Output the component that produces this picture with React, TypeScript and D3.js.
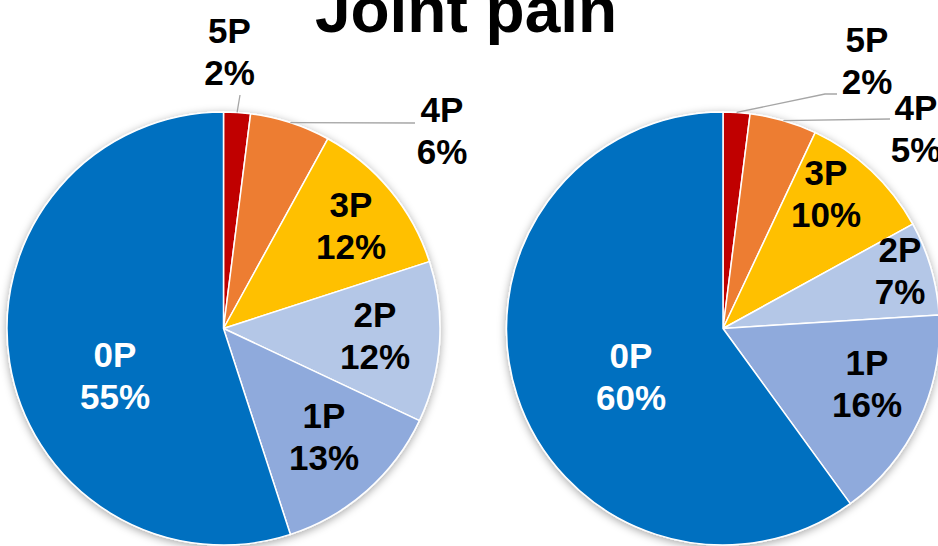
import React from "react";
import * as d3 from "d3";

const categories = ["5P", "4P", "3P", "2P", "1P", "0P"];
const leftValues = [2, 6, 12, 12, 13, 55];
const rightValues = [2, 5, 10, 7, 16, 60];
const colors = ["#C00000", "#ED7D31", "#FFC000", "#B4C7E7", "#8FAADC", "#0070C0"];
const titleText = "Joint pain";

const W = 938;
const H = 546;
const R = 216.5;
const FONT = "'Liberation Sans', Arial, sans-serif";

// label layout: [x offset from pie center, first baseline y, outside?]
const leftLabelPos: [number, number][] = [
  [6, 43], [218.5, 122], [127.5, 217], [151.5, 327], [100.5, 428], [-108.5, 367],
];
const rightLabelPos: [number, number][] = [
  [144, 52], [193, 120], [103, 185], [177, 262], [144, 375], [-92, 368],
];
// leader end points (relative to pie center x, absolute y)
const leftLeaders: ([number, number][] | null)[] = [
  [[16.5, 95]], [[191.5, 123]], null, null, null, null,
];
const rightLeaders: ([number, number][] | null)[] = [
  [[102, 94], [114, 94]], [[167, 119]], null, null, null, null,
];

function Pie({ cx, cy, values, labelPos, leaders }: any) {
  const pie = d3.pie<number>().sort(null).value((d) => d)(values);
  const arc = d3.arc<d3.PieArcDatum<number>>().innerRadius(0).outerRadius(R);
  return (
    <g>
      <g transform={`translate(${cx},${cy})`} filter="url(#shadow)">
        {pie.map((p, i) => (
          <path key={i} d={arc(p) || ""} fill={colors[i]} stroke="#fff" strokeWidth={1.5} strokeLinejoin="round" />
        ))}
      </g>
      {pie.map((p, i) => {
        const lead = leaders[i];
        if (!lead) return null;
        const mid = (p.startAngle + p.endAngle) / 2;
        const x0 = cx + R * Math.sin(mid);
        const y0 = cy - R * Math.cos(mid);
        const pts = [[x0, y0], ...lead.map((q: [number, number]) => [cx + q[0], q[1]])];
        return (
          <path key={"l" + i} d={d3.line()(pts as [number, number][]) || ""} fill="none" stroke="#A6A6A6" strokeWidth={1.3} />
        );
      })}
      {pie.map((p, i) => {
        const [dx, by] = labelPos[i];
        const fill = i === 5 ? "#fff" : "#000";
        return (
          <text key={"t" + i} x={cx + dx} y={by} textAnchor="middle" fontFamily={FONT} fontWeight="bold" fontSize={35} fill={fill}>
            <tspan x={cx + dx} y={by}>{categories[i]}</tspan>
            <tspan x={cx + dx} y={by + 42}>{`${values[i]}%`}</tspan>
          </text>
        );
      })}
    </g>
  );
}

export default function App() {
  return (
    <svg width={W} height={H} style={{ position: "absolute", left: 0, top: 0, background: "#fff" }}>
      <defs>
        <filter id="shadow" x="-20%" y="-20%" width="140%" height="140%">
          <feDropShadow dx="0" dy="2" stdDeviation="4" floodColor="#000" floodOpacity="0.35" />
        </filter>
      </defs>
      <rect width={W} height={H} fill="#fff" />
      <Pie cx={223.5} cy={328.5} values={leftValues} labelPos={leftLabelPos} leaders={leftLeaders} />
      <Pie cx={723} cy={328.5} values={rightValues} labelPos={rightLabelPos} leaders={rightLeaders} />
      <text x={466} y={32} textAnchor="middle" fontFamily={FONT} fontWeight="bold" fontSize={64} fill="#000">
        {titleText}
      </text>
    </svg>
  );
}
